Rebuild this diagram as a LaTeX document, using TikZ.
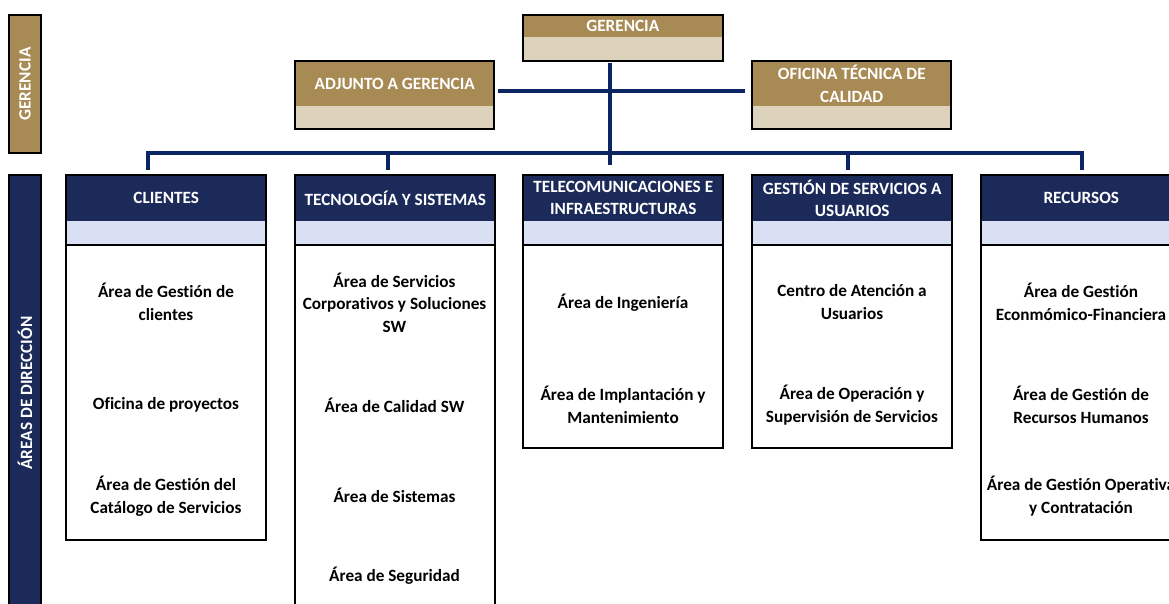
\documentclass[tikz,border=0pt]{standalone}
\usepackage{fontspec}
\setmainfont{Carlito}[Ligatures=NoCommon]
\definecolor{tanh}{HTML}{A88A55}
\definecolor{tanl}{HTML}{DDD3BC}
\definecolor{navyh}{HTML}{1C2A5A}
\definecolor{blueb}{HTML}{DAE0F3}
\definecolor{conn}{HTML}{0B2462}
\tikzset{
  txt/.style={font=\bfseries\fontsize{12.9}{16.9}\selectfont, align=center, inner sep=0pt},
  item/.style={txt, text=black},
  tophead/.style={txt, text=white, fill=tanh, minimum width=149.25pt, anchor=north west},
  cathead/.style={txt, text=white, fill=navyh, minimum width=150pt, minimum height=34.3pt, anchor=north west},
  frame/.style={draw=black, line width=1.6pt},
  connline/.style={draw=conn, line width=2.3pt},
  sidetxt/.style={txt, text=white, rotate=90},
}
\begin{document}
\begin{tikzpicture}[x=0.75pt,y=-0.75pt]
\useasboundingbox (0,0) rectangle (1169,603);
\clip (0,0) rectangle (1169,603);
\fill[white] (0,0) rectangle (1169,603);

% side bars
\draw[fill=tanh, draw=black, line width=1pt] (9,15) rectangle (41,153);
\node[sidetxt] (sideger) at (25,84) {GERENCIA};
\draw[fill=navyh, draw=black, line width=1pt] (9,175) rectangle (41,612);
\node[sidetxt] (sideareas) at (25,393) {ÁREAS DE DIRECCIÓN};

% top boxes
\fill[tanl] (523,15) rectangle (723,61);
\node[tophead, minimum height=16.5pt] (ger) at (523,15) {GERENCIA};
\draw[frame] (523,15) rectangle (723,61);

\fill[tanl] (295,61) rectangle (494,129);
\node[tophead, minimum height=33.75pt] (adj) at (295,61) {ADJUNTO A GERENCIA};
\draw[frame] (295,61) rectangle (494,129);

\fill[tanl] (752,61) rectangle (951,129);
\node[tophead, minimum height=33.75pt] (ofi) at (752,61) {OFICINA TÉCNICA DE\\CALIDAD};
\draw[frame] (752,61) rectangle (951,129);

% category boxes
\foreach \nm/\xx/\yb/\tt in {cli/66/540/{CLIENTES},
                             tec/295/620/{TECNOLOGÍA Y SISTEMAS},
                             tel/523/448/{TELECOMUNICACIONES E\\INFRAESTRUCTURAS},
                             ges/752/448/{GESTIÓN DE SERVICIOS A\\USUARIOS},
                             rec/981/540/{RECURSOS}}{
  \fill[blueb] (\xx,220) rectangle ++(200,25);
  \node[cathead] (\nm) at (\xx,175) {\tt};
  \draw[frame] (\xx,175) rectangle (\xx+200,\yb);
  \draw[frame] (\xx,245) -- ++(200,0);
}

% items
\node[item] (cli1) at (166,302) {Área de Gestión de\\clientes};
\node[item] (cli2) at (166,405) {Oficina de proyectos};
\node[item] (cli3) at (166,496) {Área de Gestión del\\Catálogo de Servicios};

\node[item] (tec1) at (394.5,302.7) {Área de Servicios\\Corporativos y Soluciones\\SW};
\node[item] (tec2) at (394.5,405) {Área de Calidad SW};
\node[item] (tec3) at (394.5,495) {Área de Sistemas};
\node[item] (tec4) at (394.5,575.7) {Área de Seguridad};

\node[item] (tel1) at (623,302.7) {Área de Ingeniería};
\node[item] (tel2) at (623,405) {Área de Implantación y\\Mantenimiento};

\node[item] (ges1) at (852,302) {Centro de Atención a\\Usuarios};
\node[item] (ges2) at (852,405) {Área de Operación y\\Supervisión de Servicios};

\node[item] (rec1) at (1081,302) {Área de Gestión\\Econmómico-Financiera};
\node[item] (rec2) at (1081,405) {Área de Gestión de\\Recursos Humanos};
\node[item] (rec3) at (1081,496) {Área de Gestión Operativa\\y Contratación};

% connectors
\coordinate (gtop) at (610,63);
\coordinate (gbot) at (610,165);
\coordinate (d1) at (148,153);
\coordinate (d2) at (388,153);
\coordinate (d4) at (848,153);
\coordinate (d5) at (1082,153);
\coordinate (hl) at (498,91);
\coordinate (hr) at (745,91);
\draw[connline] (hl) -- (hr);
\draw[connline] (gtop) -- (gbot);
\draw[connline] (d1 |- cli.north) ++(0,-5) -- (d1) -- (d5) -- ++(0,17);
\draw[connline] (d2) -- ++(0,17);
\draw[connline] (d4) -- ++(0,17);
\end{tikzpicture}
\end{document}
